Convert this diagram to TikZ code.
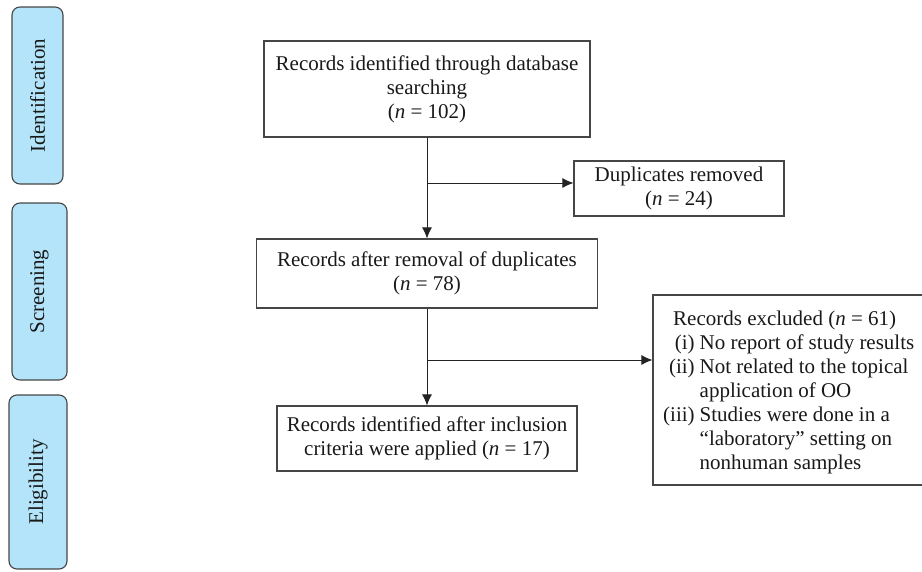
\documentclass[tikz,border=0pt]{standalone}
\usepackage{fontspec}
\setmainfont{Liberation Serif}
\usetikzlibrary{arrows.meta}
\definecolor{sideblue}{RGB}{180,228,249}
\definecolor{edgegray}{RGB}{70,70,70}
\definecolor{linegray}{RGB}{35,35,35}
\begin{document}
\begin{tikzpicture}[x=1pt,y=-1pt,
  every node/.style={font=\fontsize{21}{24}\selectfont, text=black!90},
  box/.style={draw=edgegray, line width=1.1pt, align=center, inner sep=0pt},
  side/.style={draw=edgegray, line width=1.1pt, fill=sideblue, rounded corners=8pt, rotate=90, inner sep=0pt},
  conn/.style={draw=linegray, line width=1pt, -{Latex[length=11pt,width=10pt]}}]
\useasboundingbox (0,0) rectangle (922,571);
\clip (0,0) rectangle (922,571);
% side labels
\node[side, minimum width=177pt, minimum height=51pt] (ident) at (37.5,95.5) {Identification};
\node[side, minimum width=177pt, minimum height=55pt] (screen) at (39.5,291.5) {Screening};
\node[side, minimum width=174pt, minimum height=58pt] (elig) at (38,482) {Eligibility};
% main boxes
\node[box, minimum width=326pt, minimum height=96pt] (rec) at (427,89) {Records identified through database\\searching\\(\textit{n} = 102)};
\node[box, minimum width=210pt, minimum height=55pt] (dup) at (679,188.5) {Duplicates removed\\(\textit{n} = 24)};
\node[box, minimum width=341pt, minimum height=69pt] (after) at (427,273.5) {Records after removal of duplicates\\(\textit{n} = 78)};
\node[box, minimum width=300pt, minimum height=65pt] (incl) at (427,438.5) {Records identified after inclusion\\criteria were applied (\textit{n} = 17)};
\node[box, minimum width=287pt, minimum height=190pt] (excl) at (796.5,390) {};
\node[anchor=base west, inner sep=0pt] (exclt) at (663,325) {\begin{tabular}[t]{@{}r@{\hspace{5pt}}l@{}}\multicolumn{2}{@{\hspace{10pt}}l@{}}{Records excluded (\textit{n} = 61)}\\
(i) & No report of study results\\
(ii) & Not related to the topical\\
 & application of OO\\
(iii) & Studies were done in a\\
 & ``laboratory'' setting on\\
 & nonhuman samples\end{tabular}};
% connectors
\draw[conn] (rec.south) -- (rec.south |- after.north);
\coordinate (b1) at (427,183);
\draw[conn] (b1) -- (b1 -| dup.west);
\draw[conn] (after.south) -- (after.south |- incl.north);
\coordinate (b2) at (427,360);
\draw[conn] (b2) -- (b2 -| excl.west);
\end{tikzpicture}
\end{document}
